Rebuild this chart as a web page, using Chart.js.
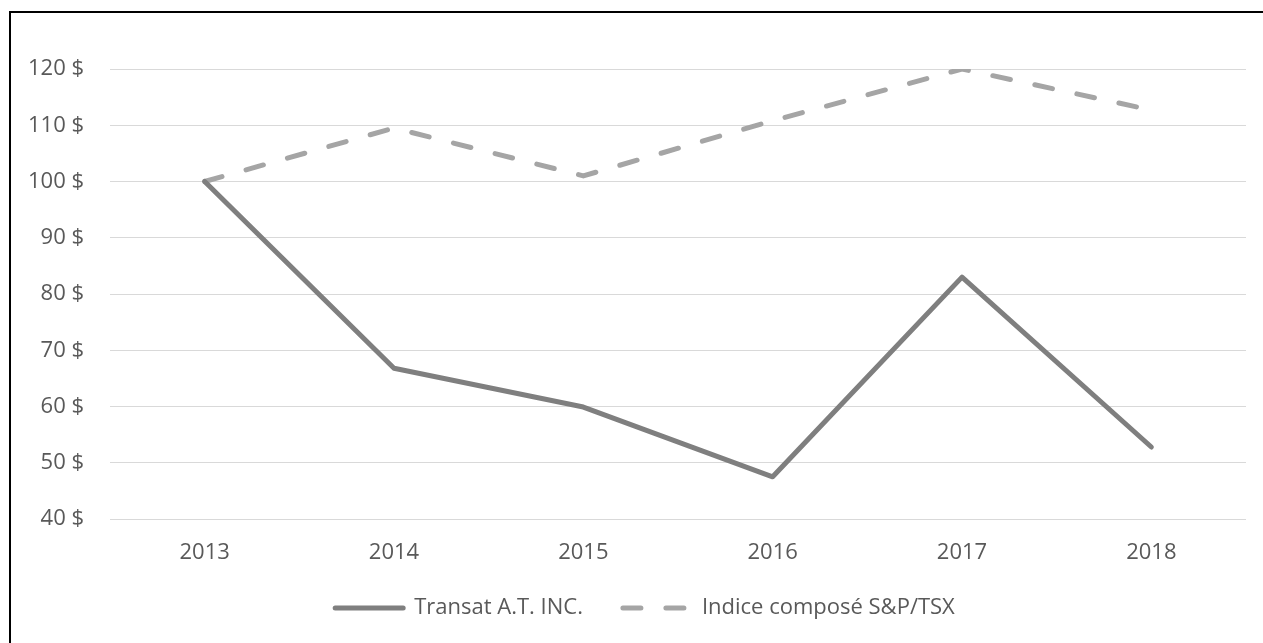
<!DOCTYPE html>
<html lang="fr">
<head>
    <meta charset="UTF-8">
    <title>Rendement total cumulatif</title>
    <script src="https://cdn.jsdelivr.net/npm/chart.js"></script>
    <style>
        html, body { margin: 0; padding: 0; background: #fff; overflow: hidden; }
        #frame {
            position: absolute; left: 9px; top: 11px;
            width: 1300px; height: 700px;
            border-left: 2px solid #000; border-top: 2px solid #000;
        }
        #wrap { position: absolute; left: 0; top: 0; width: 1263px; height: 643px; }
    </style>
</head>
<body>
    <div id="frame"></div>
    <div id="wrap"><canvas id="myChart"></canvas></div>

    <script>
        // donnees
        var annees = ['2013', '2014', '2015', '2016', '2017', '2018'];
        var transat = [100, 66.8, 59.9, 47.5, 83, 52.8];
        var indiceTSX = [100, 109.5, 101, 110.8, 120, 112.7];
        var yTicks = [40, 50, 60, 70, 80, 90, 100, 110, 120];

        var police = "'Open Sans'";
        var gris = '#595959';

        // petit decalage de la legende (remonte un peu, centree comme l'original)
        var decalageLegende = {
            id: 'decalageLegende',
            afterLayout: function (chart) {
                var lg = chart.legend;
                if (!lg) return;
                lg.top -= 10; lg.bottom -= 10;
                lg.left += 12; lg.right += 12;
            }
        };

        var ctx = document.getElementById('myChart').getContext('2d');
        var myChart = new Chart(ctx, {
            type: 'line',
            data: {
                labels: annees,
                datasets: [{
                    label: 'Transat A.T. INC.',
                    data: transat,
                    borderColor: '#7f7f7f',
                    backgroundColor: '#7f7f7f',
                    borderWidth: 5,
                    borderCapStyle: 'round',
                    borderJoinStyle: 'round',
                    pointRadius: 0,
                    fill: false,
                    tension: 0
                }, {
                    label: 'Indice composé S&P/TSX',
                    data: indiceTSX,
                    borderColor: '#a5a5a5',
                    backgroundColor: '#a5a5a5',
                    borderWidth: 5,
                    borderDash: [18, 25],
                    borderCapStyle: 'round',
                    borderJoinStyle: 'round',
                    pointRadius: 0,
                    fill: false,
                    tension: 0
                }]
            },
            plugins: [decalageLegende],
            options: {
                responsive: true,
                maintainAspectRatio: false,
                animation: false,
                layout: { padding: { left: 20, right: 17, top: 69, bottom: 4 } },
                plugins: {
                    tooltip: { enabled: false },
                    legend: {
                        position: 'bottom',
                        labels: {
                            usePointStyle: true,
                            pointStyle: 'line',
                            pointStyleWidth: 68,
                            padding: 40,
                            color: gris,
                            font: { family: police, size: 22 },
                            generateLabels: function (chart) {
                                // le style "point" ne reprend pas le pointille de la ligne
                                var items = Chart.defaults.plugins.legend.labels.generateLabels(chart);
                                items.forEach(function (it) {
                                    var ds = chart.data.datasets[it.datasetIndex];
                                    it.lineDash = ds.borderDash || [];
                                    it.lineWidth = ds.borderWidth;
                                    it.lineCap = 'round';
                                    it.strokeStyle = ds.borderColor;
                                });
                                return items;
                            }
                        }
                    }
                },
                scales: {
                    x: {
                        offset: true,
                        afterFit: function (scale) { scale.height = 48; },
                        grid: { display: false, drawTicks: false },
                        border: { display: false },
                        ticks: { color: gris, padding: 21, font: { family: police, size: 22 } }
                    },
                    y: {
                        min: 40,
                        max: 120,
                        afterBuildTicks: function (scale) {
                            scale.ticks = yTicks.map(function (v) { return { value: v }; });
                        },
                        afterFit: function (scale) { scale.width = 90; },
                        grid: { color: '#d9d9d9', lineWidth: 1, drawTicks: false },
                        border: { display: false },
                        ticks: {
                            color: gris,
                            padding: 26,
                            font: { family: police, size: 22 },
                            callback: function (v) { return v + ' $'; }
                        }
                    }
                }
            }
        });
    </script>
</body>
</html>
